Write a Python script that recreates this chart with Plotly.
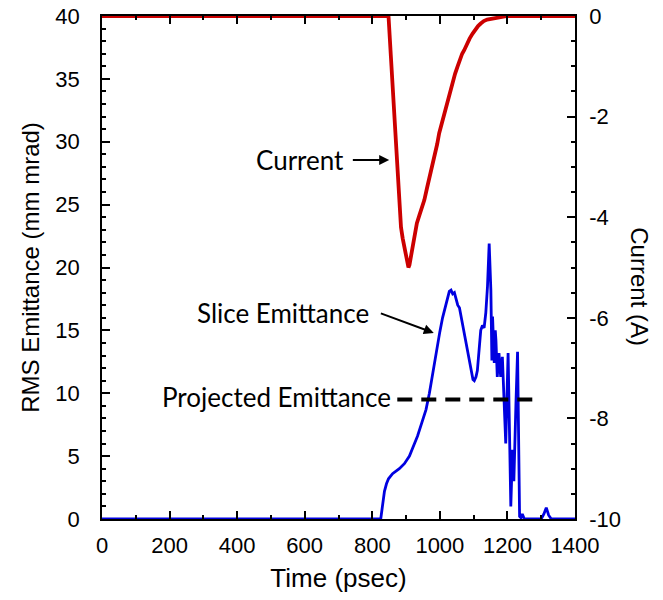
import plotly.graph_objects as go

# ---- Data ----
current_t = [0, 400, 800, 848, 855, 865, 872, 879, 885, 890, 895, 900, 904, 907, 910, 914,
             919, 924, 932, 940, 947, 954, 962, 970, 978, 986, 992, 998, 1006, 1014, 1023,
             1030, 1038, 1045, 1052, 1060, 1066, 1072, 1080, 1088, 1097, 1105, 1113, 1121,
             1130, 1140, 1156, 1170, 1185, 1200, 1300, 1400]
current_a = [0, 0, 0, 0, -0.8, -2.0, -2.8, -3.66, -4.2, -4.42, -4.6, -4.8, -4.93, -5.0, -4.95, -4.8,
             -4.55, -4.32, -4.12, -3.95, -3.80, -3.66, -3.42, -3.20, -2.99, -2.74, -2.55, -2.33,
             -2.12, -1.92, -1.67, -1.48, -1.28, -1.15, -1.01, -0.84, -0.75, -0.68, -0.55, -0.45,
             -0.35, -0.26, -0.20, -0.15, -0.10, -0.07, -0.05, -0.02, 0, 0, 0, 0]

slice_t = [0, 400, 800, 825, 830, 836, 842, 848, 860, 880, 895, 910, 922, 934, 946, 959,
           969, 979, 986, 993, 1000, 1008, 1018, 1028, 1033, 1038, 1043, 1048, 1053, 1058,
           1062, 1068, 1077, 1085, 1093, 1098, 1102, 1107, 1111, 1116, 1121, 1126, 1131,
           1136, 1141, 1146, 1149, 1151, 1154, 1156, 1161, 1164, 1166, 1170, 1175, 1180,
           1185, 1190, 1195, 1202, 1206, 1210, 1215, 1219, 1225, 1230, 1236, 1240, 1244,
           1250, 1300, 1308, 1315, 1322, 1330, 1400]
slice_e = [0, 0, 0, 0, 1.0, 2.2, 2.8, 3.2, 3.6, 4.0, 4.4, 5.0, 5.8, 6.6, 7.6, 8.7,
           10.0, 11.6, 12.8, 14.0, 14.9, 16.0, 17.1, 18.1, 18.2, 17.9, 18.0, 17.4, 17.0, 16.8,
           16.2, 15.3, 14.2, 13.0, 11.8, 11.1, 11.0, 11.3, 11.8, 13.5, 15.0, 15.4, 15.2,
           16.4, 18.5, 21.9, 19.0, 18.2, 12.6, 16.1, 12.4, 15.0, 14.2, 11.3, 13.2, 11.3,
           12.9, 8.7, 6.0, 13.2, 6.0, 1.0, 5.5, 3.0, 9.0, 13.3, 0.2, 0.1, 0.4,
           0, 0, 0.4, 0.9, 0.3, 0, 0]

proj_t = [874, 1285]
proj_e = [9.5, 9.5]

x_ticks = [0, 200, 400, 600, 800, 1000, 1200, 1400]
y_ticks = [0, 5, 10, 15, 20, 25, 30, 35, 40]
y2_ticks = [-10, -8, -6, -4, -2, 0]
y2_labels = ["-10", "-8", "-6", "-4", "-2", "0"]

TICK_FONT = dict(family="Liberation Sans, Arial, sans-serif", size=22, color="black")
XTITLE_FONT = dict(family="Liberation Sans, Arial, sans-serif", size=26, color="black")
YTITLE_FONT = dict(family="Liberation Sans, Arial, sans-serif", size=24, color="black")
NOTE_FONT = dict(family="Lato, sans-serif", size=26, color="black")

fig = go.Figure()

fig.add_trace(go.Scatter(x=slice_t, y=slice_e, mode="lines", yaxis="y",
                         line=dict(color="#0000e0", width=2.8), showlegend=False))
fig.add_trace(go.Scatter(x=proj_t, y=proj_e, mode="lines", yaxis="y",
                         line=dict(color="black", width=4, dash="15px,9px"), showlegend=False))
fig.add_trace(go.Scatter(x=current_t, y=current_a, mode="lines", yaxis="y2",
                         line=dict(color="#cc0000", width=3.8), showlegend=False))

axis_common = dict(showline=True, linecolor="black", linewidth=1.5, ticks="inside",
                   tickcolor="black", ticklen=8, tickwidth=1.5, showgrid=False,
                   zeroline=False, tickfont=TICK_FONT, automargin=False)

fig.update_layout(
    width=663, height=600,
    margin=dict(l=102, r=88, t=16, b=81),
    paper_bgcolor="white", plot_bgcolor="white",
    xaxis=dict(range=[0, 1400], tickvals=x_ticks, mirror="ticks",
               minor=dict(dtick=100, ticks="inside", ticklen=4, tickcolor="black", tickwidth=1.5),
               title=dict(text="Time (psec)", font=XTITLE_FONT, standoff=12),
               ticklabelstandoff=6, **axis_common),
    yaxis=dict(range=[0, 40], tickvals=y_ticks,
               minor=dict(dtick=1, ticks="inside", ticklen=4, tickcolor="black", tickwidth=1.5),
               title=dict(text="RMS Emittance (mm mrad)", font=YTITLE_FONT, standoff=9),
               ticklabelstandoff=16, **axis_common),
    yaxis2=dict(range=[-10, 0], tickvals=y2_ticks, ticktext=y2_labels, overlaying="y", side="right",
                minor=dict(dtick=0.5, ticks="inside", ticklen=4, tickcolor="black", tickwidth=1.5),
                ticklabelstandoff=8, **axis_common),
)

# right axis title, reading top to bottom
fig.add_annotation(text="Current (A)", xref="paper", yref="paper", x=1.136, y=0.462,
                   showarrow=False, textangle=90, font=YTITLE_FONT, xanchor="center", yanchor="middle")

# text labels
fig.add_annotation(text="Current", x=585, y=28.55, xref="x", yref="y", showarrow=False, font=NOTE_FONT)
fig.add_annotation(text="Slice Emittance", x=536, y=16.4, xref="x", yref="y", showarrow=False, font=NOTE_FONT)
fig.add_annotation(text="Projected Emittance", x=517, y=9.7, xref="x", yref="y", showarrow=False, font=NOTE_FONT)

# arrows
arrow = dict(showarrow=True, arrowhead=2, arrowsize=1, arrowwidth=2, arrowcolor="black",
             xref="x", yref="y", axref="x", ayref="y", text="", standoff=0)
fig.add_annotation(x=850, y=28.55, ax=738, ay=28.55, **arrow)
fig.add_annotation(x=982, y=14.8, ax=821, ay=16.4, **arrow)

fig.write_html("out.html")
